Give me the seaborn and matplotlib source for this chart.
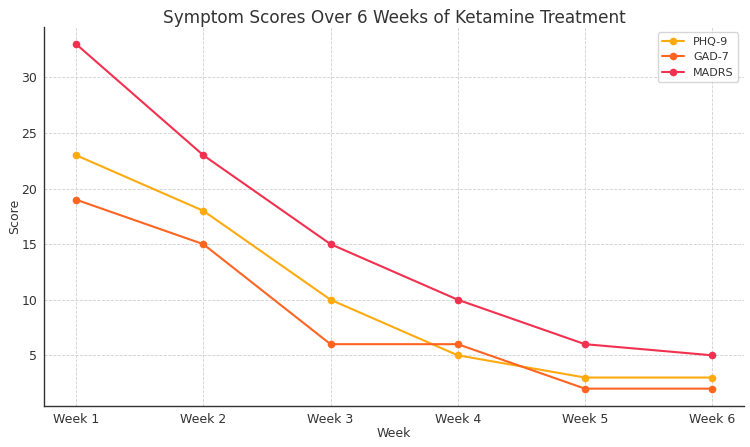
import numpy as np
import pandas as pd
import matplotlib
matplotlib.use("Agg")
import matplotlib.pyplot as plt
import seaborn as sns

weeks = ["Week 1", "Week 2", "Week 3", "Week 4", "Week 5", "Week 6"]
phq9 = [23, 18, 10, 5, 3, 3]
gad7 = [19, 15, 6, 6, 2, 2]
madrs = [33, 23, 15, 10, 6, 5]

series = {"PHQ-9": phq9, "GAD-7": gad7, "MADRS": madrs}
colors = {"PHQ-9": "#FFAA0F", "GAD-7": "#FF6521", "MADRS": "#F2304F"}

rows = []
for name, vals in series.items():
    for w, v in zip(weeks, vals):
        rows.append({"Week": w, "Score": v, "Scale": name})
df = pd.DataFrame(rows)

sns.set_style("whitegrid", {"grid.linestyle": "--", "grid.color": "#d0d0d0"})
plt.rcParams["font.family"] = ["DejaVu Sans"]
plt.rcParams["text.color"] = "#333333"
plt.rcParams["axes.labelcolor"] = "#333333"
plt.rcParams["xtick.color"] = "#333333"
plt.rcParams["ytick.color"] = "#333333"

fig, ax = plt.subplots(figsize=(7.5, 4.47), dpi=100)
sns.lineplot(data=df, x="Week", y="Score", hue="Scale", palette=colors,
             marker="o", markersize=5.5, markeredgewidth=0, linewidth=1.5,
             sort=False, ax=ax)

ax.set_title("Symptom Scores Over 6 Weeks of Ketamine Treatment", fontsize=12.2, pad=3)
ax.set_xlabel("Week", fontsize=9, labelpad=1)
ax.set_ylabel("Score", fontsize=9, labelpad=0)
ax.tick_params(axis="both", labelsize=9, length=0, pad=5)
ax.set_xlim(-0.25, 5.25)
ax.set_ylim(0.45, 34.55)
ax.set_yticks([5, 10, 15, 20, 25, 30])
ax.grid(True, linestyle="--", linewidth=0.6, color="#d0d0d0")
for s in ["top", "right"]:
    ax.spines[s].set_visible(False)
for s in ["left", "bottom"]:
    ax.spines[s].set_color("#333333")
    ax.spines[s].set_linewidth(1.0)

leg = ax.legend(loc="upper right", fontsize=8, frameon=True)
leg.get_frame().set_edgecolor("#cccccc")

fig.subplots_adjust(left=0.059, right=0.992, top=0.94, bottom=0.092)
fig.savefig("out.png", dpi=100)
